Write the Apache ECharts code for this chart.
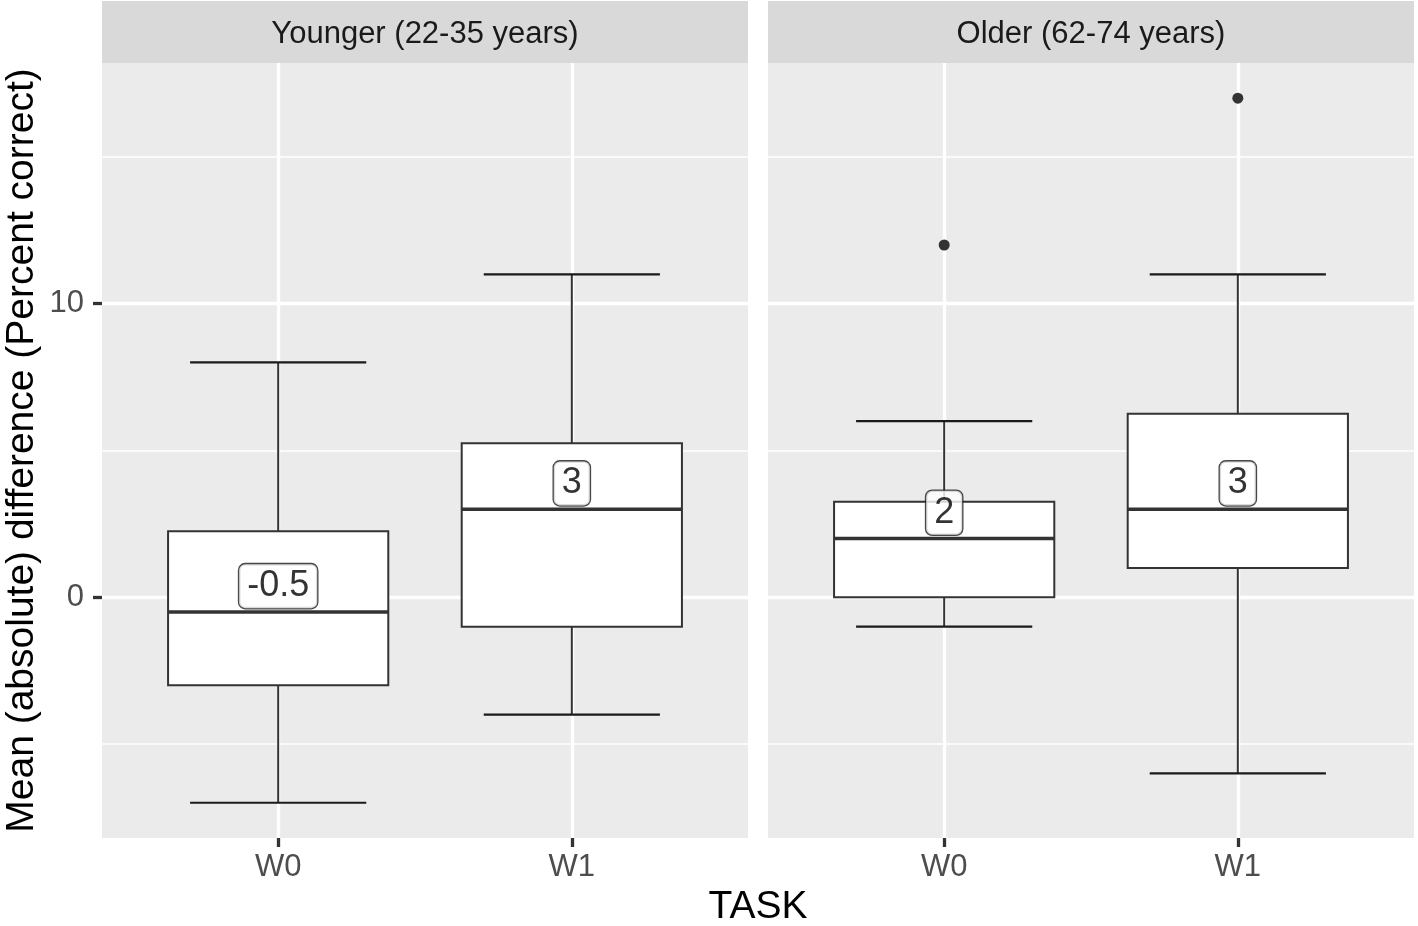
<!DOCTYPE html>
<html><head><meta charset="utf-8">
<script src="https://cdn.jsdelivr.net/npm/echarts@6/dist/echarts.min.js"></script>
<style>html,body{margin:0;padding:0;background:#fff}#c{width:1418px;height:926px}</style>
</head><body><div id="c"></div>
<script>
// ---- data ----
const categories = ['W0', 'W1'];
const panelTitles = ['Younger (22-35 years)', 'Older (62-74 years)'];
const youngerWhiskerLow  = [-7, -4];
const youngerQ1          = [-3, -1];
const youngerMedian      = [-0.5, 3];
const youngerQ3          = [2.25, 5.25];
const youngerWhiskerHigh = [8, 11];
const olderWhiskerLow  = [-1, -6];
const olderQ1          = [0, 1];
const olderMedian      = [2, 3];
const olderQ3          = [3.25, 6.25];
const olderWhiskerHigh = [6, 11];
const youngerOutlierTask = [];
const youngerOutlierValue = [];
const olderOutlierTask = ['W0', 'W1'];
const olderOutlierValue = [12, 17];
const yMajorBreaks = [0, 10];
const yMinorBreaks = [-5, 5, 15];
const xTitle = 'TASK';
const yTitle = 'Mean (absolute) difference (Percent correct)';

// ---- layout / style ----
const FONT = '"Liberation Sans", Arial, Helvetica, sans-serif';
const Y_MIN = -8.2, Y_MAX = 18.2;
const PANEL_TOP = 63, PANEL_H = 775, PANEL_W = 646;
const PANEL_LEFT = [102, 768];
const LABEL_OFFSET = 0.88;

function boxData(lo, q1, med, q3, hi) {
  return categories.map((c, i) => [i + 1, lo[i], q1[i], med[i], q3[i], hi[i]]);
}
const panelBoxes = [
  boxData(youngerWhiskerLow, youngerQ1, youngerMedian, youngerQ3, youngerWhiskerHigh),
  boxData(olderWhiskerLow, olderQ1, olderMedian, olderQ3, olderWhiskerHigh)
];
const panelMedians = [youngerMedian, olderMedian];
const panelOutliers = [
  youngerOutlierTask.map((t, i) => [categories.indexOf(t) + 1, youngerOutlierValue[i]]),
  olderOutlierTask.map((t, i) => [categories.indexOf(t) + 1, olderOutlierValue[i]])
];

function renderBox(params, api) {
  const x = api.value(0);
  const lo = api.coord([x, api.value(1)]);
  const q1 = api.coord([x, api.value(2)]);
  const md = api.coord([x, api.value(3)]);
  const q3 = api.coord([x, api.value(4)]);
  const hi = api.coord([x, api.value(5)]);
  const cx = lo[0];
  const halfBox = api.size([0.75, 0])[0] / 2;
  const halfCap = api.size([0.6, 0])[0] / 2;
  const line = '#333333';
  return {
    type: 'group',
    children: [
      {type: 'line', shape: {x1: cx, y1: lo[1], x2: cx, y2: q1[1]}, style: {stroke: line, lineWidth: 2}},
      {type: 'line', shape: {x1: cx, y1: q3[1], x2: cx, y2: hi[1]}, style: {stroke: line, lineWidth: 2}},
      {type: 'line', shape: {x1: cx - halfCap, y1: lo[1], x2: cx + halfCap, y2: lo[1]}, style: {stroke: '#1a1a1a', lineWidth: 2.2}},
      {type: 'line', shape: {x1: cx - halfCap, y1: hi[1], x2: cx + halfCap, y2: hi[1]}, style: {stroke: '#1a1a1a', lineWidth: 2.2}},
      {type: 'rect', shape: {x: cx - halfBox, y: q3[1], width: 2 * halfBox, height: q1[1] - q3[1]},
        style: {fill: '#ffffff', stroke: line, lineWidth: 2}},
      {type: 'line', shape: {x1: cx - halfBox, y1: md[1], x2: cx + halfBox, y2: md[1]}, style: {stroke: line, lineWidth: 3.6}}
    ]
  };
}

const grids = [], xAxes = [], yAxes = [], series = [], graphics = [];
PANEL_LEFT.forEach((left, p) => {
  grids.push({left: left, top: PANEL_TOP, width: PANEL_W, height: PANEL_H, show: true,
    backgroundColor: '#EBEBEB', borderWidth: 0, containLabel: false});
  xAxes.push({gridIndex: p, type: 'value', min: 0.4, max: 2.6, position: 'bottom',
    axisLine: {show: false, onZero: false},
    axisTick: {show: true, customValues: [1, 2], length: 9, lineStyle: {color: '#333333', width: 3.3}},
    axisLabel: {customValues: [1, 2], formatter: v => categories[Math.round(v) - 1],
      fontSize: 31, color: '#4D4D4D', margin: 14, fontFamily: FONT},
    splitLine: {show: true, lineStyle: {color: '#ffffff', width: 3.3}}
  });
  // major y
  yAxes.push({gridIndex: p, type: 'value', min: Y_MIN, max: Y_MAX, position: 'left',
    axisLine: {show: false, onZero: false},
    axisTick: {show: p === 0, customValues: yMajorBreaks, length: 9, lineStyle: {color: '#333333', width: 3.3}},
    axisLabel: {show: p === 0, customValues: yMajorBreaks, fontSize: 31, color: '#4D4D4D', margin: 18, fontFamily: FONT},
    splitLine: {show: true, lineStyle: {color: '#ffffff', width: 3.3}}
  });
  // minor y
  yAxes.push({gridIndex: p, type: 'value', min: Y_MIN, max: Y_MAX, position: 'left',
    axisLine: {show: false, onZero: false},
    axisTick: {show: false, customValues: yMinorBreaks},
    axisLabel: {show: false, customValues: yMinorBreaks},
    splitLine: {show: true, lineStyle: {color: '#ffffff', width: 1.7}}
  });
  series.push({type: 'custom', xAxisIndex: p, yAxisIndex: 2 * p, renderItem: renderBox,
    data: panelBoxes[p], z: 3, silent: true});
  series.push({type: 'scatter', xAxisIndex: p, yAxisIndex: 2 * p, symbolSize: 11,
    itemStyle: {color: '#333333', opacity: 1}, data: panelOutliers[p], z: 4, silent: true});
  series.push({type: 'scatter', xAxisIndex: p, yAxisIndex: 2 * p, symbolSize: 1,
    itemStyle: {color: 'rgba(0,0,0,0)'}, z: 5, silent: true,
    data: panelMedians[p].map((m, i) => ({value: [i + 1, m + LABEL_OFFSET], name: String(m)})),
    label: {show: true, position: 'inside', formatter: '{b}', fontSize: 36, lineHeight: 36,
      color: '#000000', textBorderWidth: 0, fontFamily: FONT, backgroundColor: '#ffffff', borderColor: '#1a1a1a',
      borderWidth: 1.3, borderRadius: 6, padding: [4, 8]}
  });
  graphics.push({type: 'rect', shape: {x: left, y: 1, width: PANEL_W, height: PANEL_TOP - 1},
    style: {fill: '#D9D9D9'}, silent: true});
  graphics.push({type: 'text', x: left + PANEL_W / 2, y: 34,
    style: {text: panelTitles[p], fontSize: 31, fill: '#1A1A1A', fontFamily: FONT,
      textAlign: 'center', textVerticalAlign: 'middle'}, silent: true});
});
graphics.push({type: 'text', x: 22, y: PANEL_TOP + PANEL_H / 2, rotation: Math.PI / 2,
  style: {text: yTitle, fontSize: 39, fill: '#000000', fontFamily: FONT,
    textAlign: 'center', textVerticalAlign: 'middle'}, silent: true});
graphics.push({type: 'text', x: (PANEL_LEFT[0] + PANEL_LEFT[1] + PANEL_W) / 2, y: 907,
  style: {text: xTitle, fontSize: 39, fill: '#000000', fontFamily: FONT,
    textAlign: 'center', textVerticalAlign: 'middle'}, silent: true});

const chart = echarts.init(document.getElementById('c'), null, {renderer: 'canvas'});
chart.setOption({
  animation: false,
  backgroundColor: '#ffffff',
  grid: grids, xAxis: xAxes, yAxis: yAxes, series: series, graphic: graphics
});
</script></body></html>
